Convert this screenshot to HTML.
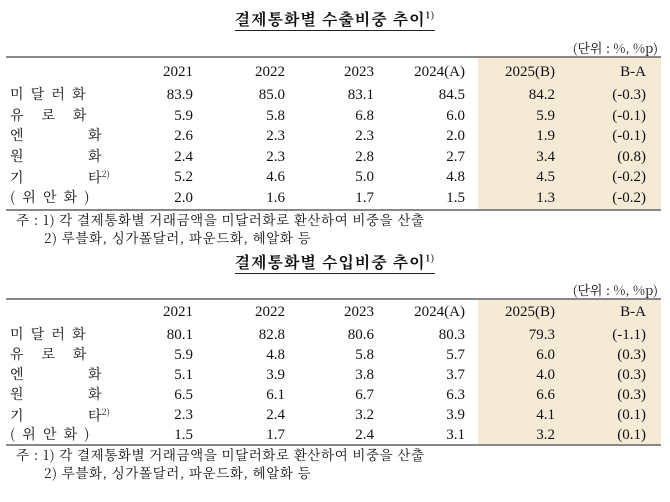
<!DOCTYPE html>
<html><head><meta charset="utf-8"><style>
body{margin:0;width:670px;height:502px;background:#fff;position:relative;overflow:hidden;font-family:"Liberation Serif","Noto Serif CJK SC",serif;color:#111}
.a{position:absolute;white-space:nowrap;line-height:1}
.t{font-family:"Noto Serif CJK SC",serif;font-size:16px;font-weight:bold;left:0;width:670px;text-align:center;letter-spacing:1px}
.t span{border-bottom:1.5px solid #222;padding-bottom:0px}
.k{font-family:"Noto Serif CJK SC",serif;font-size:14px}
.n{font-size:15px;text-align:right;width:80px}
.sh{position:absolute;background:#f5ead6}
.ln{position:absolute;left:6px;width:655px;background:#888}
sup{font-size:9px}
</style></head><body>
<div id="t1"></div>
<script>
function tbl(o,title,rows,c){
 let h='';
 h+=`<div class="a t" style="top:${o+c.ti}px"><span>${title}<sup>1)</sup></span></div>`;
 h+=`<div class="a k" style="top:${o+c.u}px;right:12px;font-size:13px">(단위 : %, %p)</div>`;
 h+=`<div class="sh" style="left:478px;width:183px;top:${o+c.top}px;height:${c.bot-c.top}px"></div>`;
 h+=`<div class="ln" style="top:${o+c.top-1}px;height:2px"></div>`;
 h+=`<div class="ln" style="top:${o+c.bot}px;height:2px"></div>`;
 const rx=[193,285,374,465,555,646];
 const hd=['2021','2022','2023','2024(A)','2025(B)','B-A'];
 hd.forEach((t,i)=>{h+=`<div class="a n" style="left:${rx[i]-80}px;top:${o+c.hd}px">${t}</div>`});
 const lbl=['미&nbsp;&nbsp;달&nbsp;&nbsp;러&nbsp;&nbsp;화','유&nbsp;&nbsp;&nbsp;&nbsp;&nbsp;로&nbsp;&nbsp;&nbsp;&nbsp;&nbsp;화','엔&nbsp;&nbsp;&nbsp;&nbsp;&nbsp;&nbsp;&nbsp;&nbsp;&nbsp;&nbsp;&nbsp;&nbsp;&nbsp;&nbsp;&nbsp;&nbsp;&nbsp;&nbsp;화','원&nbsp;&nbsp;&nbsp;&nbsp;&nbsp;&nbsp;&nbsp;&nbsp;&nbsp;&nbsp;&nbsp;&nbsp;&nbsp;&nbsp;&nbsp;&nbsp;&nbsp;&nbsp;화','기&nbsp;&nbsp;&nbsp;&nbsp;&nbsp;&nbsp;&nbsp;&nbsp;&nbsp;&nbsp;&nbsp;&nbsp;&nbsp;&nbsp;&nbsp;&nbsp;&nbsp;&nbsp;타<sup>2)</sup>','(&nbsp;&nbsp;위&nbsp;&nbsp;안&nbsp;&nbsp;화&nbsp;&nbsp;)'];
 rows.forEach((r,j)=>{
  const y=o+c.r0+j*c.st;
  h+=`<div class="a k" style="left:10px;top:${y-1}px">${lbl[j]}</div>`;
  r.forEach((v,i)=>{h+=`<div class="a n" style="left:${rx[i]-80}px;top:${y}px">${v}</div>`});
 });
 const ny=o+c.bot+4;
 h+=`<div class="a k" style="left:16px;top:${ny}px;font-size:13.5px;letter-spacing:0.6px">주 : 1) 각 결제통화별 거래금액을 미달러화로 환산하여 비중을 산출</div>`;
 h+=`<div class="a k" style="left:44px;top:${ny+18}px;font-size:13.5px;letter-spacing:0.6px">2) 루블화, 싱가폴달러, 파운드화, 헤알화 등</div>`;
 return h;
}
document.getElementById('t1').innerHTML=
tbl(0,'결제통화별 수출비중 추이',[
['83.9','85.0','83.1','84.5','84.2','(-0.3)'],
['5.9','5.8','6.8','6.0','5.9','(-0.1)'],
['2.6','2.3','2.3','2.0','1.9','(-0.1)'],
['2.4','2.3','2.8','2.7','3.4','(0.8)'],
['5.2','4.6','5.0','4.8','4.5','(-0.2)'],
['2.0','1.6','1.7','1.5','1.3','(-0.2)']],{ti:11,u:41,top:57,hd:65,r0:88,st:20.6,bot:209})+
tbl(250,'결제통화별 수입비중 추이',[
['80.1','82.8','80.6','80.3','79.3','(-1.1)'],
['5.9','4.8','5.8','5.7','6.0','(0.3)'],
['5.1','3.9','3.8','3.7','4.0','(0.3)'],
['6.5','6.1','6.7','6.3','6.6','(0.3)'],
['2.3','2.4','3.2','3.9','4.1','(0.1)'],
['1.5','1.7','2.4','3.1','3.2','(0.1)']],{ti:4,u:33,top:49,hd:55,r0:78,st:20,bot:194});
</script>
</body></html>
